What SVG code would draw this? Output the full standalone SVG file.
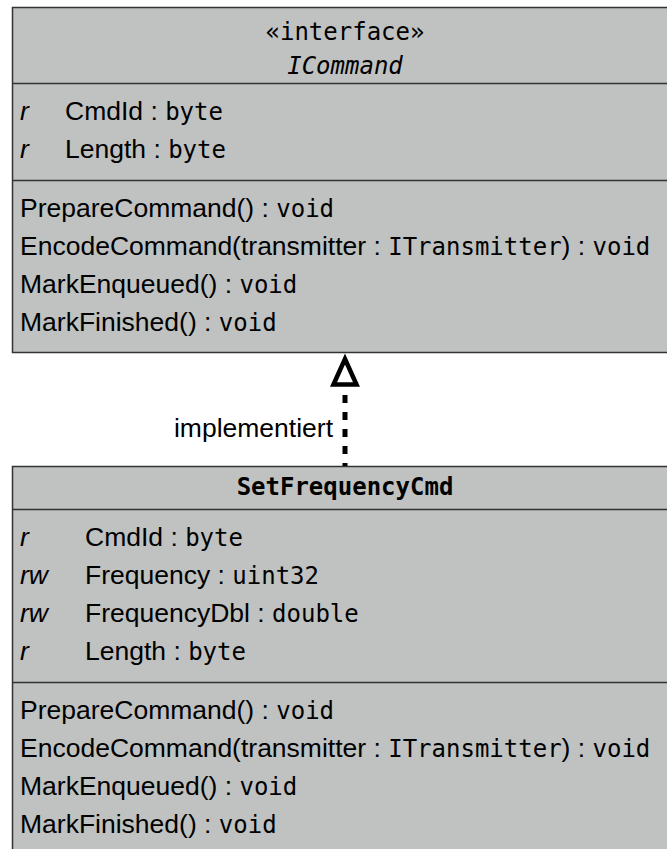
<svg xmlns="http://www.w3.org/2000/svg" width="667" height="849" viewBox="0 0 667 849">
  <style>
    .box { fill: #bfc2c1; stroke: #333333; stroke-width: 1.5; }
    .sep { stroke: #333333; stroke-width: 1.5; }
    .sans { font-family: "Liberation Sans", Arial, sans-serif; font-size: 26.5px; fill: #000000; }
    .mono { font-family: "DejaVu Sans Mono", "Liberation Mono", monospace; font-size: 24px; }
    .vis { font-style: italic; }
    .title { font-family: "DejaVu Sans Mono", "Liberation Mono", monospace; font-size: 24px; fill: #000000; text-anchor: middle; }
    .realize { fill: none; stroke: #000000; stroke-width: 5; stroke-dasharray: 8 9; stroke-dashoffset: 5; }
  </style>
  <defs>
    <!-- hollow triangle head for the realization arrow -->
    <marker id="hollowTriangle" markerUnits="userSpaceOnUse" markerWidth="40" markerHeight="40" viewBox="-5 -20 40 40" refX="0" refY="0" orient="auto" overflow="visible">
      <path d="M1.5,-11.5 L27,0 L1.5,11.5 Z" fill="#ffffff" stroke="#000000" stroke-width="4.5" stroke-linejoin="miter"/>
    </marker>
  </defs>

  <rect width="667" height="849" fill="#ffffff"/>

  <!-- interface ICommand -->
  <g id="ICommand">
    <rect class="box" x="12.5" y="7.5" width="665" height="345"/>
    <line class="sep" x1="12.5" y1="83.5" x2="677.5" y2="83.5"/>
    <line class="sep" x1="12.5" y1="180.5" x2="677.5" y2="180.5"/>
    <text class="title" x="345" y="40">«interface»</text>
    <text class="title" x="345" y="74" font-style="italic">ICommand</text>

    <text class="sans" y="120"><tspan class="vis" x="20">r</tspan><tspan x="65">CmdId : </tspan><tspan class="mono">byte</tspan></text>
    <text class="sans" y="158"><tspan class="vis" x="20">r</tspan><tspan x="65">Length : </tspan><tspan class="mono">byte</tspan></text>

    <text class="sans" x="20" y="217">PrepareCommand() : <tspan class="mono">void</tspan></text>
    <text class="sans" x="20" y="255">EncodeCommand(transmitter : <tspan class="mono">ITransmitter</tspan>) : <tspan class="mono">void</tspan></text>
    <text class="sans" x="20" y="293">MarkEnqueued() : <tspan class="mono">void</tspan></text>
    <text class="sans" x="20" y="331">MarkFinished() : <tspan class="mono">void</tspan></text>
  </g>

  <!-- class SetFrequencyCmd -->
  <g id="SetFrequencyCmd">
    <rect class="box" x="12.5" y="466.5" width="665" height="400"/>
    <line class="sep" x1="12.5" y1="509.5" x2="677.5" y2="509.5"/>
    <line class="sep" x1="12.5" y1="682.5" x2="677.5" y2="682.5"/>
    <text class="title" x="345" y="495" font-weight="bold">SetFrequencyCmd</text>

    <text class="sans" y="546"><tspan class="vis" x="20">r</tspan><tspan x="85">CmdId : </tspan><tspan class="mono">byte</tspan></text>
    <text class="sans" y="584"><tspan class="vis" x="20">rw</tspan><tspan x="85">Frequency : </tspan><tspan class="mono">uint32</tspan></text>
    <text class="sans" y="622"><tspan class="vis" x="20">rw</tspan><tspan x="85">FrequencyDbl : </tspan><tspan class="mono">double</tspan></text>
    <text class="sans" y="660"><tspan class="vis" x="20">r</tspan><tspan x="85">Length : </tspan><tspan class="mono">byte</tspan></text>

    <text class="sans" x="20" y="719">PrepareCommand() : <tspan class="mono">void</tspan></text>
    <text class="sans" x="20" y="757">EncodeCommand(transmitter : <tspan class="mono">ITransmitter</tspan>) : <tspan class="mono">void</tspan></text>
    <text class="sans" x="20" y="795">MarkEnqueued() : <tspan class="mono">void</tspan></text>
    <text class="sans" x="20" y="833">MarkFinished() : <tspan class="mono">void</tspan></text>
  </g>

  <!-- realization: SetFrequencyCmd implements ICommand -->
  <g id="connectors">
    <path class="realize" d="M345,466 V386" marker-end="url(#hollowTriangle)"/>
    <text class="sans" x="333" y="437" text-anchor="end">implementiert</text>
  </g>
</svg>
